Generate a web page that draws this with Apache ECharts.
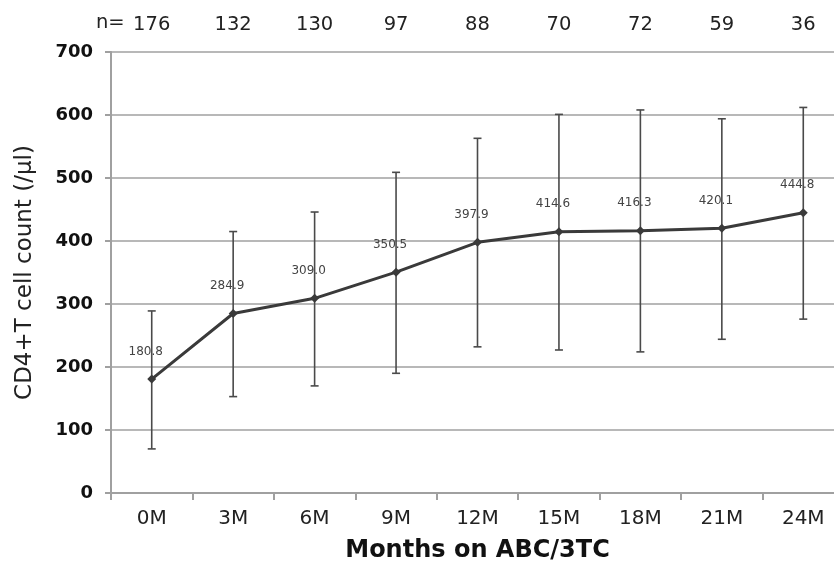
<!DOCTYPE html>
<html>
<head>
<meta charset="utf-8">
<script src="https://cdn.jsdelivr.net/npm/echarts@6/dist/echarts.min.js"></script>
<style>html,body{margin:0;padding:0;background:#fff}#c{width:834px;height:567px}</style>
</head>
<body>
<div id="c"></div>
<script>
const categories = ['0M','3M','6M','9M','12M','15M','18M','21M','24M'];
const nCounts = ['176','132','130','97','88','70','72','59','36'];
const meanValues = [180.8, 284.9, 309.0, 350.5, 397.9, 414.6, 416.3, 420.1, 444.8];
const upperValues = [289, 415, 446, 509, 563, 601, 608, 594, 612];
const lowerValues = [70, 153, 170, 190, 232, 227, 224, 244, 276];
const yTicks = [0, 100, 200, 300, 400, 500, 600, 700];

const errData = categories.map((c, i) => [i, lowerValues[i], upperValues[i]]);

const chart = echarts.init(document.getElementById('c'), null, {renderer: 'canvas'});
chart.setOption({
  animation: false,
  backgroundColor: '#fff',
  grid: {left: 111, top: 52, width: 733, height: 441, containLabel: false, outerBoundsMode: 'none'},
  graphic: [{
    type: 'text', left: 96, top: 13,
    style: {text: 'n=', fontFamily: 'DejaVu Sans', fontSize: 19.5, fill: '#222'}
  }],
  xAxis: [{
    type: 'category', data: categories, position: 'bottom',
    boundaryGap: true,
    axisLine: {lineStyle: {color: '#a0a0a0', width: 2}},
    axisTick: {show: true, length: 7, lineStyle: {color: '#a0a0a0', width: 2}},
    axisLabel: {margin: 16, fontFamily: 'DejaVu Sans', fontSize: 20, color: '#222'},
    name: 'Months on ABC/3TC', nameLocation: 'middle', nameGap: 46,
    nameTextStyle: {fontFamily: 'DejaVu Sans', fontWeight: 'bold', fontSize: 24, color: '#111'}
  }, {
    type: 'category', data: nCounts, position: 'top',
    boundaryGap: true,
    axisLine: {show: false}, axisTick: {show: false},
    axisLabel: {margin: 17, fontFamily: 'DejaVu Sans', fontSize: 19.5, color: '#222'}
  }],
  yAxis: {
    type: 'value', min: 0, max: 700, interval: 100,
    axisLine: {show: true, lineStyle: {color: '#a0a0a0', width: 2}},
    axisTick: {show: true, length: 6, lineStyle: {color: '#a0a0a0', width: 2}},
    axisLabel: {margin: 18, fontFamily: 'DejaVu Sans', fontWeight: 'bold', fontSize: 18, color: '#111',
      formatter: v => yTicks.includes(v) ? String(v) : ''},
    splitLine: {show: true, lineStyle: {color: '#b8b8b8', width: 2}},
    name: 'CD4+T cell count (/µl)', nameLocation: 'middle', nameGap: 74,
    nameTextStyle: {fontFamily: 'DejaVu Sans', fontSize: 23, color: '#222'}
  },
  series: [{
    type: 'custom',
    data: errData,
    z: 2,
    renderItem: function (params, api) {
      const x = api.value(0);
      const lo = api.coord([x, api.value(1)]);
      const hi = api.coord([x, api.value(2)]);
      const cw = 4;
      const style = {stroke: '#4a4a4a', lineWidth: 1.6};
      return {
        type: 'group',
        children: [
          {type: 'line', shape: {x1: hi[0], y1: hi[1], x2: lo[0], y2: lo[1]}, style: style},
          {type: 'line', shape: {x1: hi[0] - cw, y1: hi[1], x2: hi[0] + cw, y2: hi[1]}, style: style},
          {type: 'line', shape: {x1: lo[0] - cw, y1: lo[1], x2: lo[0] + cw, y2: lo[1]}, style: style}
        ]
      };
    }
  }, {
    type: 'line',
    data: meanValues,
    z: 3,
    symbol: 'diamond', symbolSize: 9,
    lineStyle: {color: '#3a3a3a', width: 3},
    itemStyle: {color: '#3a3a3a'},
    label: {
      show: true, position: 'top', distance: 17, offset: [-6, 0],
      fontFamily: 'DejaVu Sans', fontSize: 12, color: '#444',
      formatter: p => p.value.toFixed(1)
    }
  }]
});
</script>
</body>
</html>
